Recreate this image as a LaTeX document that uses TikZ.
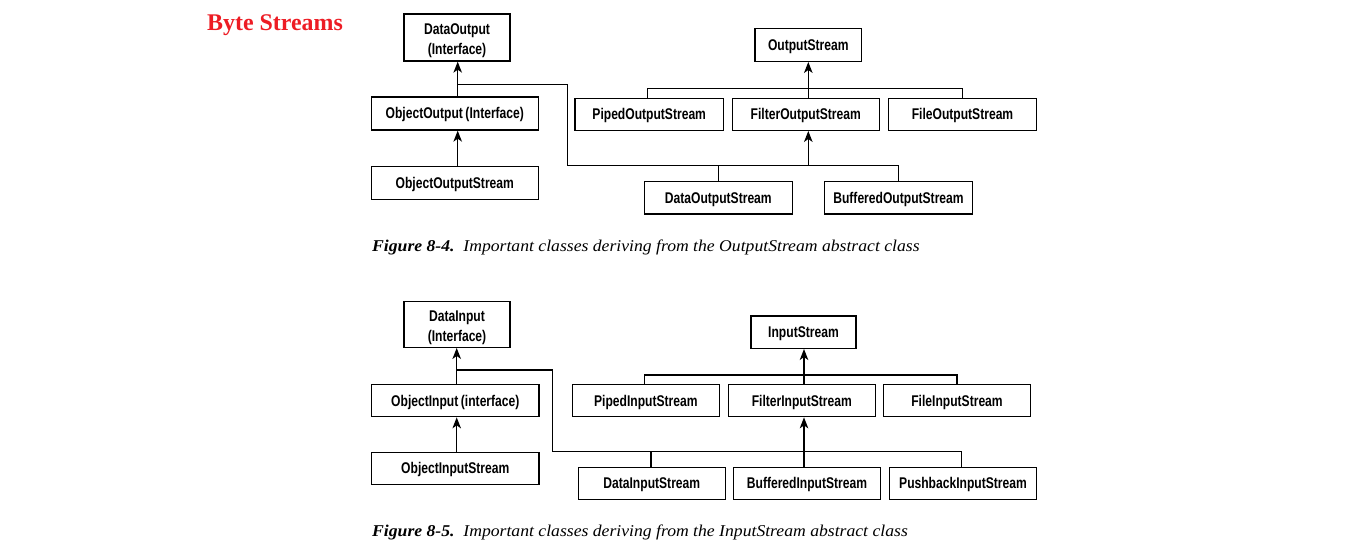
\documentclass[tikz,border=0pt]{standalone}
\usepackage{fontspec}
\setmainfont{Liberation Serif}
\newfontfamily\boxfont[FakeStretch=0.78]{Liberation Sans}
\newfontfamily\capfont[FakeStretch=1.07]{Liberation Serif}
\usetikzlibrary{arrows.meta}
\definecolor{titlered}{RGB}{237,28,36}
\tikzset{
  boxtext/.style={inner sep=0pt, font=\boxfont\bfseries\fontsize{15.5}{20}\selectfont, align=center},
  box/.style={draw, line width=1.3pt, boxtext, text height=11pt, text depth=0pt},
  box2/.style={draw, line width=1.3pt, inner sep=0pt},
  wire/.style={line width=1.3pt},
  arr/.style={wire, -{Stealth[length=11pt,width=8.5pt,inset=3pt]}},
  caption/.style={anchor=base west, inner sep=0pt, font=\capfont\itshape\fontsize{16.5}{18}\selectfont},
}
\begin{document}
\begin{tikzpicture}[x=1pt,y=-1pt]
\useasboundingbox (0,0) rectangle (1349,556);
\node[anchor=base west, inner sep=0pt, text=titlered, font=\bfseries\fontsize{23.9}{26}\selectfont] (title) at (207,30.7) {Byte Streams};

% ---------- Output hierarchy ----------
\node[box2, minimum width=106, minimum height=47, label={[boxtext, yshift=-3pt]center:DataOutput\\(Interface)}] (dout) at (457,37.5) {};
\node[box, minimum width=167, minimum height=33] (oout) at (454.8,113.5) {ObjectOutput\,(Interface)};
\node[box, minimum width=167, minimum height=33] (oos) at (454.8,182.8) {ObjectOutputStream};
\node[box, minimum width=106.7, minimum height=33] (os) at (808.3,44.8) {OutputStream};
\node[box, minimum width=148.3, minimum height=32] (pos) at (649.2,114.3) {PipedOutputStream};
\node[box, minimum width=147, minimum height=32] (fos) at (805.8,114.3) {FilterOutputStream};
\node[box, minimum width=148.4, minimum height=32] (fios) at (962.5,114.3) {FileOutputStream};
\node[box, minimum width=148, minimum height=32.3] (dos) at (718.3,197.8) {DataOutputStream};
\node[box, minimum width=148.4, minimum height=32.3] (bos) at (898.5,197.8) {BufferedOutputStream};

\coordinate (jo) at (457.7,84.3);
\coordinate (bo) at (808.3,165.7);
\coordinate (to) at (808.3,88.3);
\draw[arr] (oout.north -| jo) -- (dout.south -| jo);
\draw[arr] (oos.north -| jo) -- (oout.south -| jo);
\draw[wire] (jo) -| (567.3,165.7) -- (bo);
\draw[wire] (dos.north) |- (bo) -| (bos.north);
\draw[arr] (bo) -- (fos.south -| bo);
\draw[wire] (pos.north -| 647.3,0) |- (to) -| (fios.north);
\draw[wire] (fos.north -| to) -- (to);
\draw[arr] (to) -- (os.south);

\node[caption] (cap1) at (372,251.3) {\textbf{Figure 8-4.}\ \ Important classes deriving from the OutputStream abstract class};

% ---------- Input hierarchy ----------
\node[box2, minimum width=106, minimum height=45.6, label={[boxtext, yshift=-3pt]center:DataInput\\(Interface)}] (din) at (457,324.5) {};
\node[box, minimum width=167.3, minimum height=32.4] (oin) at (455.3,400.5) {ObjectInput\,(interface)};
\node[box, minimum width=167.3, minimum height=32] (ois) at (455.3,468.3) {ObjectInputStream};
\node[box, minimum width=105, minimum height=32.3] (is) at (803.5,332.2) {InputStream};
\node[box, minimum width=147, minimum height=32.4] (pis) at (645.8,400.5) {PipedInputStream};
\node[box, minimum width=147, minimum height=32.4] (fis) at (801.8,400.5) {FilterInputStream};
\node[box, minimum width=147.4, minimum height=32.4] (fiis) at (957,400.5) {FileInputStream};
\node[box, minimum width=147, minimum height=32] (dis) at (651.8,483.3) {DataInputStream};
\node[box, minimum width=146.6, minimum height=32] (bis) at (807,483.3) {BufferedInputStream};
\node[box, minimum width=147.4, minimum height=32] (pbis) at (963,483.3) {PushbackInputStream};

\coordinate (ji) at (456.7,370);
\coordinate (bi) at (804,451.7);
\coordinate (ti) at (804,375);
\draw[arr] (oin.north -| ji) -- (din.south -| ji);
\draw[arr] (ois.north -| ji) -- (oin.south -| ji);
\draw[wire] (ji) -| (552.3,451.7) -- (bi);
\draw[wire] (dis.north -| 651,0) |- (bi) -| (pbis.north -| 961.7,0);
\draw[wire] (bis.north -| bi) -- (bi);
\draw[arr] (bi) -- (fis.south -| bi);
\draw[wire] (pis.north -| 644.3,0) |- (ti) -| (fiis.north);
\draw[wire] (fis.north -| ti) -- (ti);
\draw[arr] (ti) -- (is.south -| ti);

\node[caption] (cap2) at (372,536.7) {\textbf{Figure 8-5.}\ \ Important classes deriving from the InputStream abstract class};
\end{tikzpicture}
\end{document}
